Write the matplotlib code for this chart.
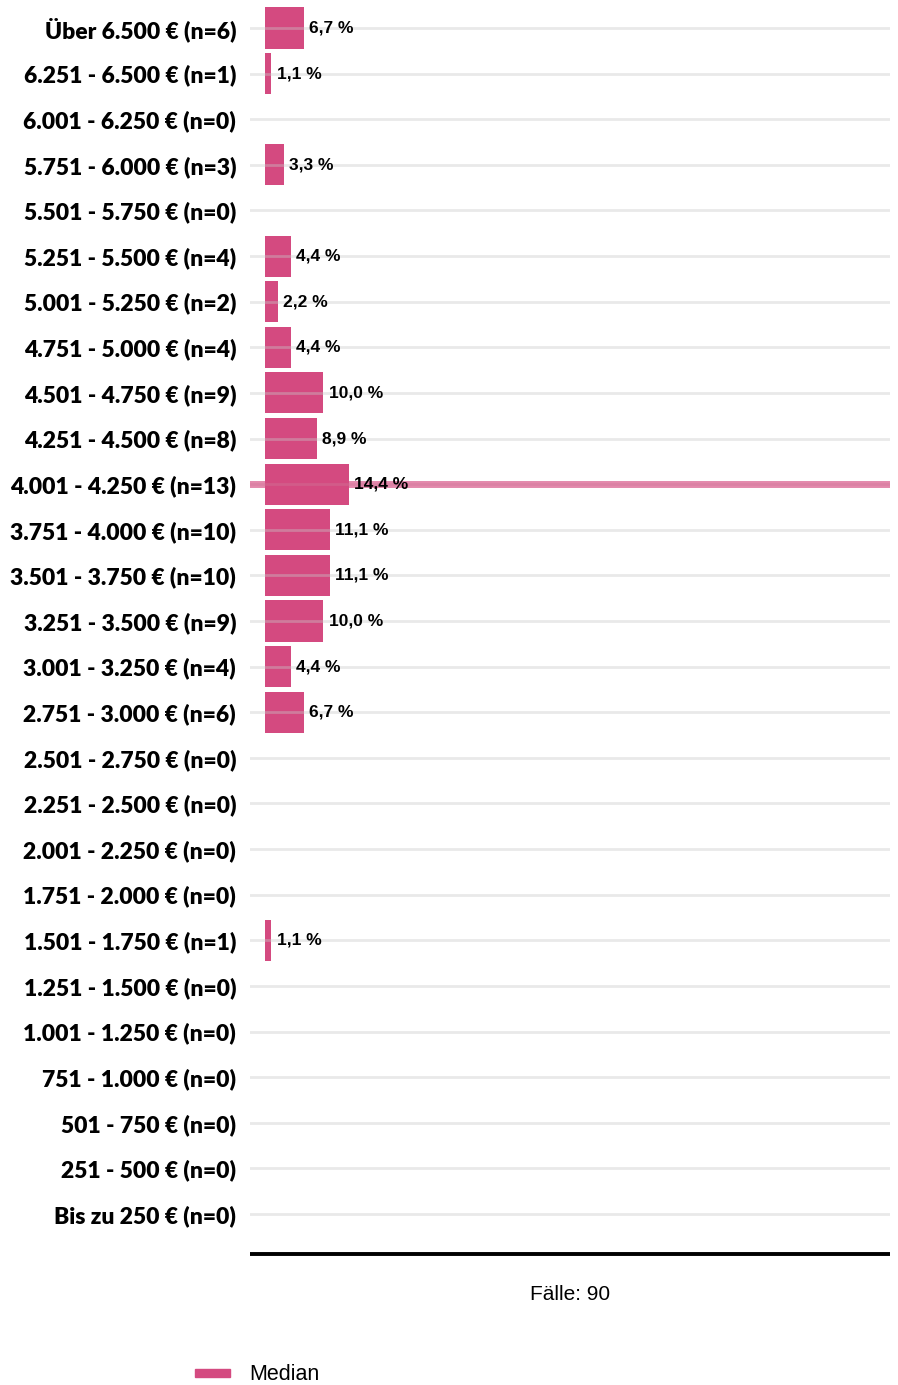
import matplotlib.pyplot as plt
from matplotlib.patches import Rectangle

# income bands, top to bottom
bands = ["Über 6.500 €", "6.251 - 6.500 €", "6.001 - 6.250 €", "5.751 - 6.000 €",
         "5.501 - 5.750 €", "5.251 - 5.500 €", "5.001 - 5.250 €", "4.751 - 5.000 €",
         "4.501 - 4.750 €", "4.251 - 4.500 €", "4.001 - 4.250 €", "3.751 - 4.000 €",
         "3.501 - 3.750 €", "3.251 - 3.500 €", "3.001 - 3.250 €", "2.751 - 3.000 €",
         "2.501 - 2.750 €", "2.251 - 2.500 €", "2.001 - 2.250 €", "1.751 - 2.000 €",
         "1.501 - 1.750 €", "1.251 - 1.500 €", "1.001 - 1.250 €", "751 - 1.000 €",
         "501 - 750 €", "251 - 500 €", "Bis zu 250 €"]
counts = [6, 1, 0, 3, 0, 4, 2, 4, 9, 8, 13, 10, 10, 9, 4, 6,
          0, 0, 0, 0, 1, 0, 0, 0, 0, 0, 0]
percent = [6.7, 1.1, 0.0, 3.3, 0.0, 4.4, 2.2, 4.4, 10.0, 8.9, 14.4, 11.1,
           11.1, 10.0, 4.4, 6.7, 0.0, 0.0, 0.0, 0.0, 1.1, 0.0, 0.0, 0.0, 0.0, 0.0, 0.0]
total = 90
median_band = "4.001 - 4.250 €"

pink = "#d44a80"
label_font = "Lato"
value_font = "Liberation Sans"

n = len(bands)
ypos = [n - 1 - i for i in range(n)]

W, H = 898, 1385
fig = plt.figure(figsize=(W / 100, H / 100), dpi=100)
ax = fig.add_axes([250 / W, 1 - 1254 / H, 640 / W, 1254 / H])

ax.barh(ypos, percent, height=0.9, color=pink, zorder=2)

# grid lines run across the bars
for y in ypos:
    ax.axhline(y, color="#c8c8c8", alpha=0.4, lw=2, zorder=3)

for y, p in zip(ypos, percent):
    if p > 0:
        ax.text(p + 0.9, y, f"{p:.1f} %".replace(".", ","), va="center", ha="left",
                fontsize=12.5, fontweight="bold", family=value_font, zorder=5)

my = ypos[bands.index(median_band)]
ax.axhline(my, color=pink, alpha=0.65, lw=5, zorder=4)

ax.set_xlim(-2.57, 107.2)
ax.set_ylim(-0.877, n - 1 + 0.614)
ax.set_yticks(ypos)
ax.set_yticklabels([f"{b} (n={c})" for b, c in zip(bands, counts)],
                   fontsize=16.5, fontweight="heavy", family=label_font)
ax.tick_params(axis="y", length=0, pad=10)
ax.set_xticks([])
for s in ["top", "right", "left"]:
    ax.spines[s].set_visible(False)
ax.spines["bottom"].set_linewidth(2.8)
ax.spines["bottom"].set_color("black")
ax.spines["bottom"].set_capstyle("butt")

ax.set_xlabel(f"Fälle: {total}", fontsize=15, family=value_font, labelpad=22)

# legend entry for the median line
fig.patches.append(Rectangle((195 / W, 1 - 1377 / H), 35 / W, 8 / H,
                             color=pink, transform=fig.transFigure, figure=fig))
fig.text(249 / W, 1 - 1374 / H, "Median", fontsize=15.5, family=value_font,
         va="center", ha="left")

fig.savefig("out.png", dpi=100)
